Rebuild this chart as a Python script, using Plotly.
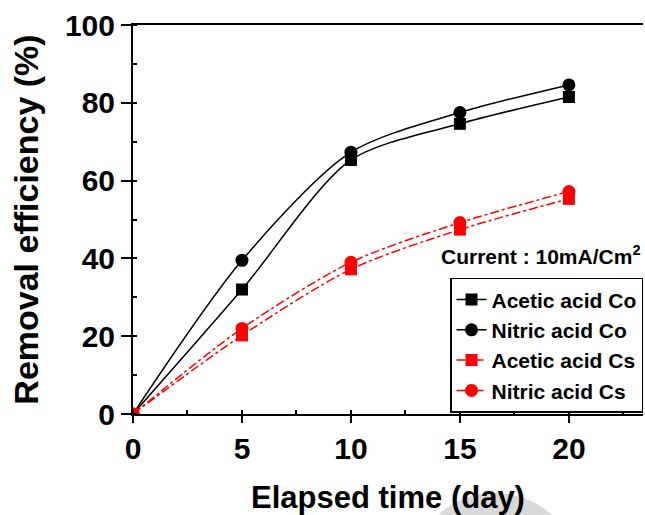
import plotly.graph_objects as go

days = [0, 5, 10, 15, 20]
acetic_co = [0, 32, 65.3, 74.6, 81.5]
nitric_co = [0, 39.5, 67.3, 77.5, 84.6]
acetic_cs = [0, 20.2, 37.2, 47.4, 55.3]
nitric_cs = [0, 22.0, 39.0, 49.2, 57.2]

series = [
    ("Acetic acid Co", acetic_co, "black", "solid", "square"),
    ("Nitric acid Co", nitric_co, "black", "solid", "circle"),
    ("Acetic acid Cs", acetic_cs, "red", "dashdot", "square"),
    ("Nitric acid Cs", nitric_cs, "red", "dashdot", "circle"),
]

BOLD = "Liberation Sans, Arial, sans-serif"

fig = go.Figure()
for name, vals, col, dash, sym in series:
    fig.add_trace(go.Scatter(
        x=days, y=vals, name=name, mode="lines+markers",
        line=dict(color=col, width=1.5, dash=dash, shape="spline", smoothing=0.8),
        marker=dict(symbol=sym, size=12 if sym == "square" else 13, color=col),
    ))

fig.update_layout(
    width=645, height=515,
    margin=dict(l=133, r=2, t=25, b=99),
    plot_bgcolor="white", paper_bgcolor="white",
    showlegend=True,
    legend=dict(
        x=1, xanchor="right", y=0.35, yanchor="top",
        bordercolor="black", borderwidth=1.5, bgcolor="white",
        font=dict(family=BOLD, size=21, color="black", weight="bold"),
        tracegroupgap=0,
    ),
    font=dict(family=BOLD, color="black"),
)

fig.update_xaxes(
    range=[0, 23.4], tickvals=[0, 5, 10, 15, 20],
    showgrid=False, zeroline=False,
    showline=True, linecolor="black", linewidth=2, mirror=True,
    ticks="outside", ticklen=7, tickwidth=2, tickcolor="black",
    minor=dict(ticks="inside", ticklen=4, tickwidth=1.5, tickcolor="black", dtick=2.5, showgrid=False),
    tickfont=dict(family=BOLD, size=30, color="black", weight="bold"),
    title=dict(text="Elapsed time (day)", standoff=26,
               font=dict(family=BOLD, size=31, color="black", weight="bold")),
)
fig.update_yaxes(
    range=[0, 100], tickvals=[0, 20, 40, 60, 80, 100],
    showgrid=False, zeroline=False,
    showline=True, linecolor="black", linewidth=2, mirror=False,
    ticks="outside", ticklen=10, tickwidth=2, tickcolor="black",
    minor=dict(ticks="inside", ticklen=4, tickwidth=1.5, tickcolor="black", dtick=10, showgrid=False),
    tickfont=dict(family=BOLD, size=30, color="black", weight="bold"),
    title=dict(text="Removal efficiency (%)", standoff=16,
               font=dict(family=BOLD, size=34, color="black", weight="bold")),
)

fig.add_annotation(
    xref="paper", yref="paper", x=1.0, y=0.41, xanchor="right", yanchor="middle",
    text="Current : 10mA/Cm<sup>2</sup>", showarrow=False,
    font=dict(family=BOLD, size=21, color="black", weight="bold"),
)

fig.add_shape(type="circle", xref="paper", yref="paper",
              x0=(410 - 133) / 510, x1=(580 - 133) / 510,
              y0=(415.7 - 665) / 390.7, y1=(415.7 - 495) / 390.7,
              fillcolor="#d9d9d9", line=dict(width=0), layer="below")

fig.write_html("out.html")
